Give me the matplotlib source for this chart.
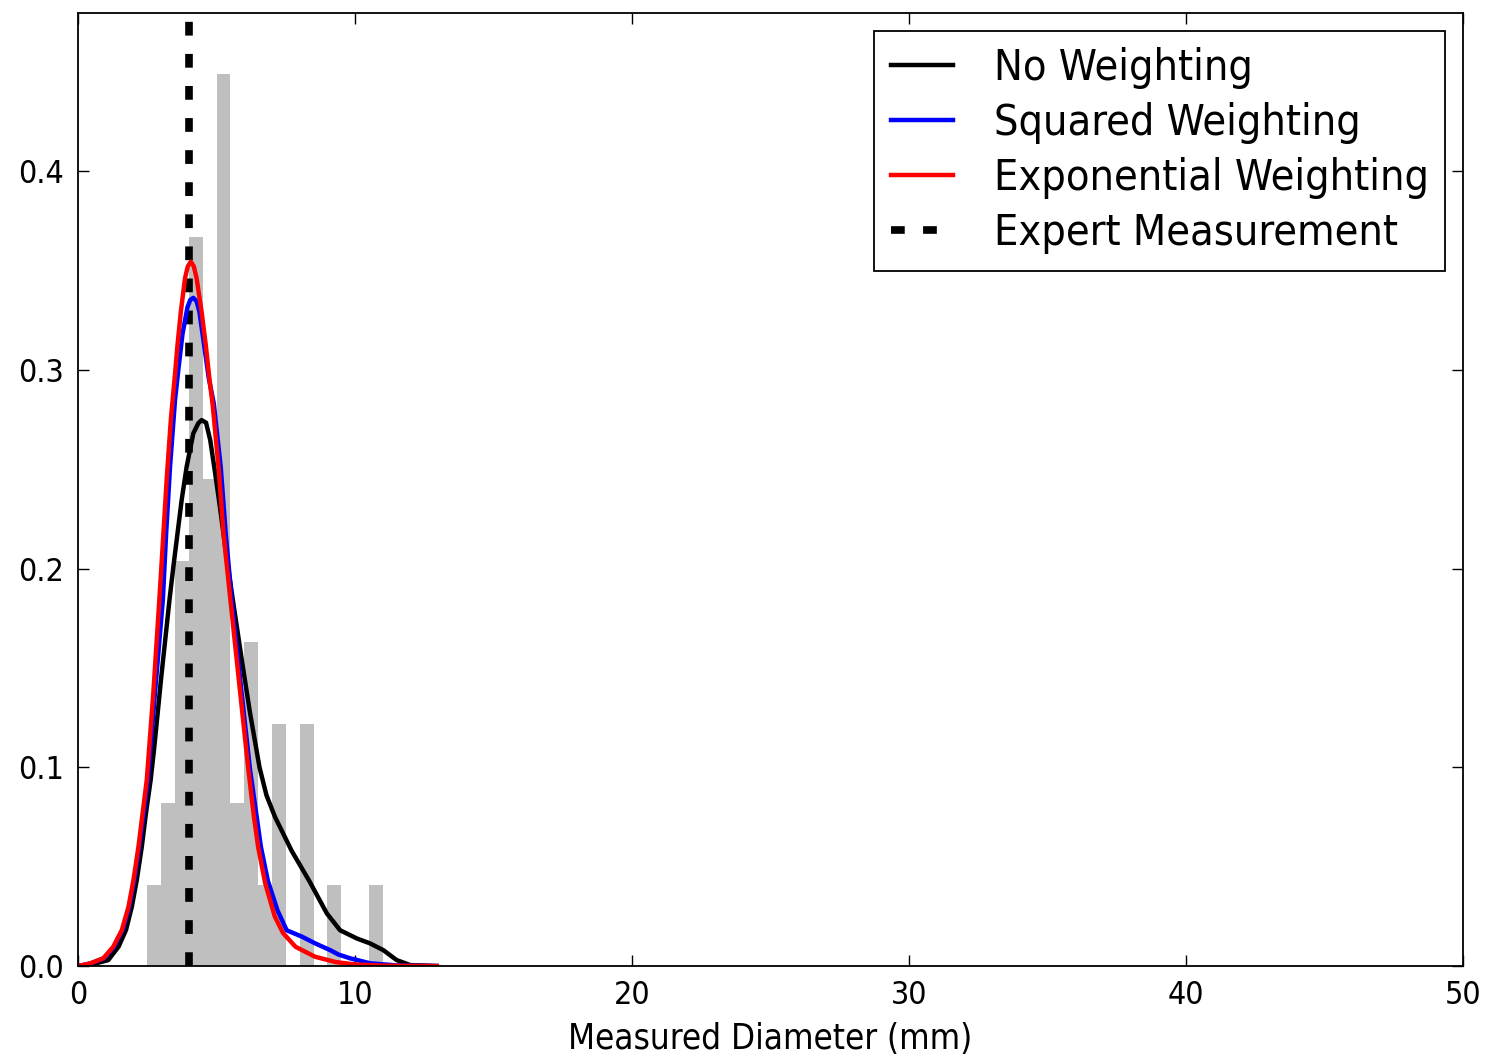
import numpy as np
import matplotlib
matplotlib.use("Agg")
import matplotlib.pyplot as plt

# histogram of measured diameters (density per 0.5 mm bin)
bin_edges = [2.5, 3.0, 3.5, 4.0, 4.5, 5.0, 5.5, 6.0, 6.5, 7.0, 7.5, 8.0, 8.5, 9.0, 9.5, 10.0, 10.5, 11.0]
bin_density = [0.041, 0.082, 0.204, 0.367, 0.245, 0.449, 0.082, 0.163, 0.041, 0.122, 0.0, 0.122, 0.0, 0.041, 0.0, 0.0, 0.041]

# kernel density curves
no_w_x = [0, 0.5, 1.09, 1.46, 1.73, 1.94, 2.12, 2.30, 2.45, 2.62, 2.75, 3.0, 3.3, 3.44, 3.59, 3.74, 3.92, 4.16, 4.34, 4.46,
          4.62, 4.77, 4.95, 5.12, 5.35, 5.6, 5.9, 6.2, 6.55, 6.8, 7.11, 7.71, 8.38, 8.98, 9.46, 10.06, 10.54, 11.02, 11.5, 11.99, 12.95]
no_w_y = [0, 0.0008, 0.003, 0.0097, 0.0181, 0.0298, 0.0433, 0.06, 0.0768, 0.0936, 0.11, 0.145, 0.1842, 0.2009, 0.2177, 0.2345, 0.2512, 0.268, 0.2731, 0.2747,
          0.2734, 0.2647, 0.2479, 0.2311, 0.207, 0.183, 0.155, 0.128, 0.10, 0.086, 0.075, 0.058, 0.042, 0.0265, 0.018, 0.0139, 0.0114, 0.008, 0.003, 0.0005, 0]

sq_w_x = [0, 0.45, 0.94, 1.3, 1.61, 1.85, 2.03, 2.21, 2.37, 2.52, 2.78, 3.06, 3.18, 3.32, 3.5, 3.62, 3.77, 3.95, 4.05, 4.16, 4.28,
          4.38, 4.55, 4.72, 4.9, 5.15, 5.33, 5.55, 5.9, 6.21, 6.45, 6.6, 6.85, 7.2, 7.53, 8.08, 8.56, 9.1, 9.4, 9.82, 10.54, 11.5, 12.95]
sq_w_y = [0, 0.0013, 0.0039, 0.0097, 0.0181, 0.0298, 0.0433, 0.06, 0.0768, 0.0936, 0.138, 0.1842, 0.2177, 0.2512, 0.2848, 0.30, 0.318, 0.3315, 0.3352, 0.3362, 0.3345,
          0.3292, 0.3125, 0.2957, 0.283, 0.2512, 0.2177, 0.1842, 0.138, 0.0986, 0.075, 0.06, 0.043, 0.028, 0.018, 0.0148, 0.0114, 0.008, 0.0058, 0.0039, 0.0014, 0.0003, 0]

exp_w_x = [0, 0.43, 0.91, 1.27, 1.58, 1.82, 2.0, 2.18, 2.33, 2.48, 2.72, 2.96, 3.1, 3.2, 3.35, 3.5, 3.59, 3.71, 3.86, 3.96, 4.07,
           4.18, 4.28, 4.46, 4.61, 4.74, 4.86, 5.07, 5.25, 5.5, 5.88, 6.15, 6.35, 6.5, 6.75, 7.1, 7.4, 7.85, 8.55, 9.3, 10.0, 11.0, 12.95]
exp_w_y = [0, 0.0013, 0.0039, 0.0097, 0.0181, 0.0298, 0.0433, 0.06, 0.0768, 0.0936, 0.138, 0.19, 0.222, 0.245, 0.275, 0.298, 0.3125, 0.3292, 0.346, 0.352, 0.3544,
           0.352, 0.346, 0.3292, 0.3125, 0.2957, 0.2823, 0.2512, 0.2177, 0.1842, 0.134, 0.0986, 0.075, 0.06, 0.042, 0.025, 0.0166, 0.0097, 0.0047, 0.002, 0.0008, 0.0002, 0]

expert_x = 4.0

font = dict(family='DejaVu Sans', stretch='condensed')

fig = plt.figure(figsize=(14.87, 10.61), dpi=100)
ax = fig.add_axes([0.0525, 0.0895, 0.9314, 0.8982])

widths = np.diff(bin_edges)
ax.bar(bin_edges[:-1], bin_density, width=widths, align='edge', color='#bfbfbf', linewidth=0, zorder=1)

ax.axvline(expert_x, color='black', lw=5.5, dashes=(1.8, 2.4), zorder=1.5, label='Expert Measurement')
ax.plot(no_w_x, no_w_y, color='black', lw=3.2, label='No Weighting', zorder=2.2, solid_joinstyle='round')
ax.plot(sq_w_x, sq_w_y, color='blue', lw=3.2, label='Squared Weighting', zorder=2.3, solid_joinstyle='round')
ax.plot(exp_w_x, exp_w_y, color='red', lw=3.2, label='Exponential Weighting', zorder=2.4, solid_joinstyle='round')

ax.set_xlim(0, 50)
ax.set_ylim(0, 0.4795)
ax.set_xticks([0, 10, 20, 30, 40, 50])
ax.set_yticks([0.0, 0.1, 0.2, 0.3, 0.4])
ax.set_yticklabels(['0.0', '0.1', '0.2', '0.3', '0.4'])
ax.tick_params(direction='in', top=True, right=True, length=8, width=1, pad=10)
for lab in ax.get_xticklabels() + ax.get_yticklabels():
    lab.set_fontproperties(matplotlib.font_manager.FontProperties(size=23, **font))
ax.set_xlabel('Measured Diameter (mm)', fontsize=25, labelpad=8, **font)
for s in ax.spines.values():
    s.set_linewidth(1.3)

h, l = ax.get_legend_handles_labels()
order = [1, 2, 3, 0]
leg = ax.legend([h[i] for i in order], [l[i] for i in order], loc='upper right',
                prop=matplotlib.font_manager.FontProperties(size=31, **font),
                fancybox=False, edgecolor='black', framealpha=1, handlelength=1.44,
                borderaxespad=0.42, labelspacing=0.3, handletextpad=0.95, borderpad=0.38)
leg.get_frame().set_linewidth(1.3)

fig.savefig('out.png', dpi=100)
